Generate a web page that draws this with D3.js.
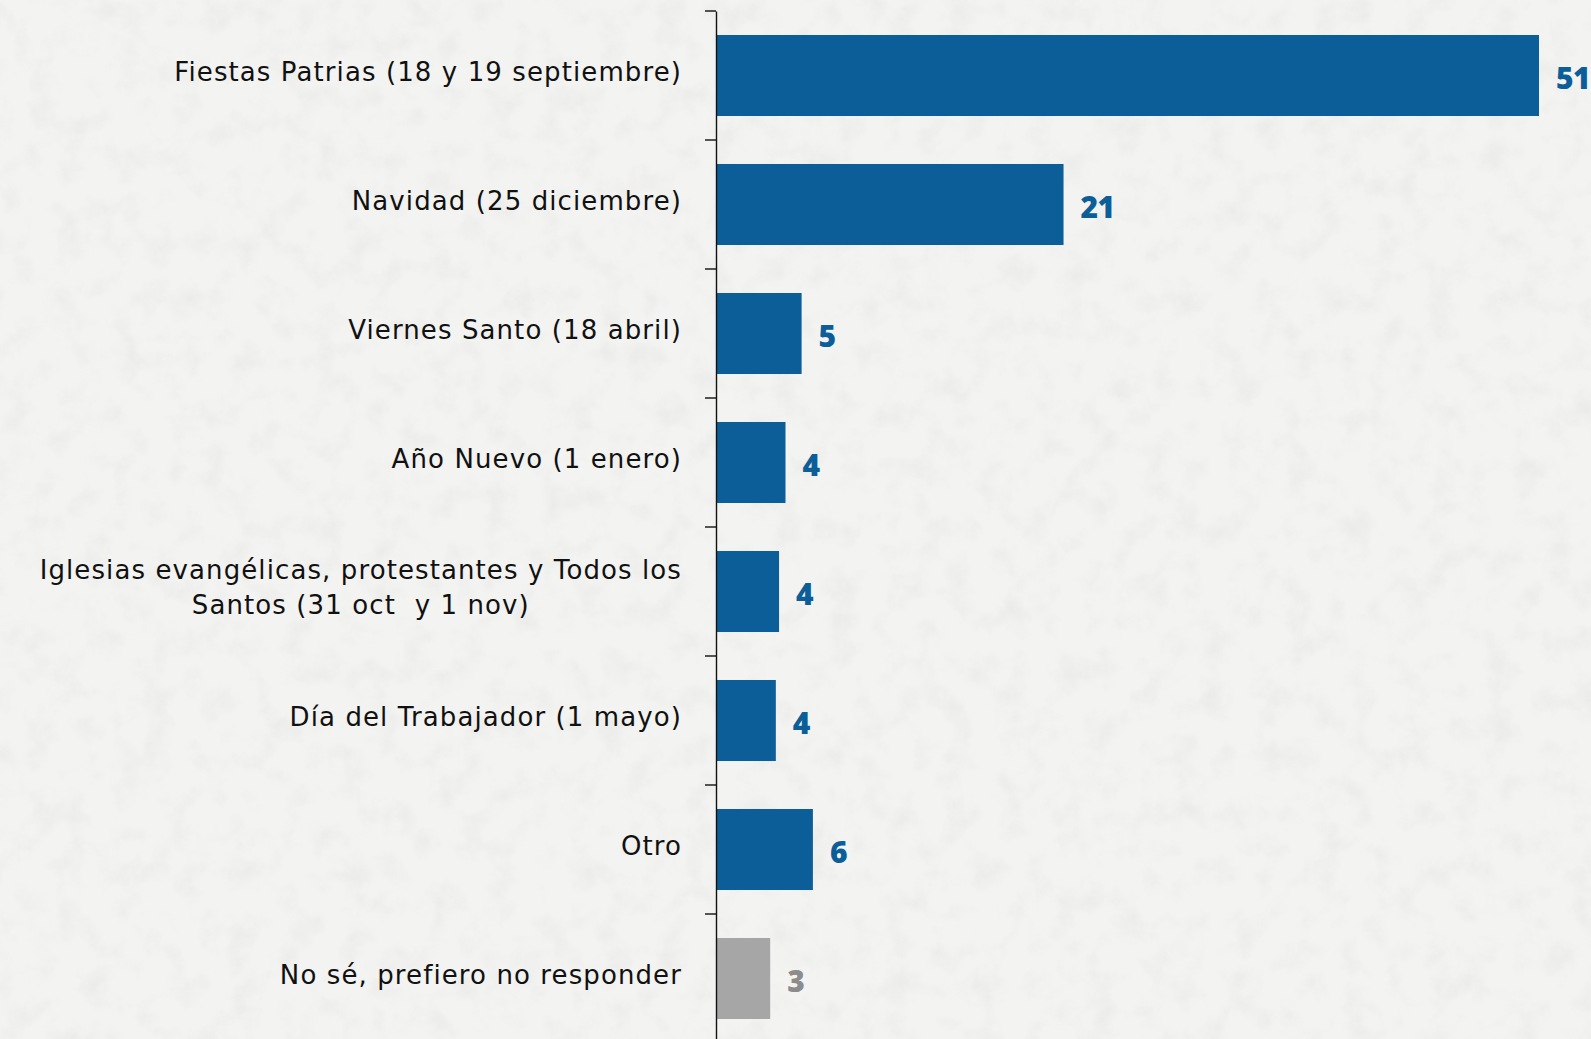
<!DOCTYPE html>
<html>
<head>
<meta charset="utf-8">
<script src="https://cdn.jsdelivr.net/npm/d3@7"></script>
<style>
  html, body { margin: 0; padding: 0; background: #f2f2f0; }
  svg { display: block; }
  .cat { font-family: "DejaVu Sans", sans-serif; font-size: 26px; fill: #111; white-space: pre; letter-spacing: 1.1px; }
  .val { font-family: "Open Sans", sans-serif; font-size: 30px; font-weight: 800; letter-spacing: -0.5px; }
</style>
</head>
<body>
<svg id="chart" width="1591" height="1039"></svg>
<script>
const categories = [
  "Fiestas Patrias (18 y 19 septiembre)",
  "Navidad (25 diciembre)",
  "Viernes Santo (18 abril)",
  "Año Nuevo (1 enero)",
  "Iglesias evangélicas, protestantes y Todos los\nSantos (31 oct  y 1 nov)",
  "Día del Trabajador (1 mayo)",
  "Otro",
  "No sé, prefiero no responder"
];
const values = [51, 21.5, 5.25, 4.25, 3.85, 3.65, 5.95, 3.3];
const valueLabels = ["51", "21", "5", "4", "4", "4", "6", "3"];
const isNoAnswer = [false, false, false, false, false, false, false, true];

const W = 1591, H = 1039;
const svg = d3.select("#chart");

// paper-like background
const defs = svg.append("defs");
const f = defs.append("filter").attr("id", "paper").attr("x", 0).attr("y", 0).attr("width", "100%").attr("height", "100%");
f.append("feTurbulence").attr("type", "fractalNoise").attr("baseFrequency", 0.035).attr("numOctaves", 4).attr("seed", 7).attr("result", "n");
f.append("feColorMatrix").attr("type", "matrix")
  .attr("values", "0 0 0 0 0.55  0 0 0 0 0.55  0 0 0 0 0.53  0 0 0 -1.4 0.75");
svg.append("rect").attr("width", W).attr("height", H).attr("fill", "#f3f3f1");
svg.append("rect").attr("width", W).attr("height", H).attr("filter", "url(#paper)").attr("opacity", 0.25);

const axisX = 716;
const x = d3.scaleLinear().domain([0, 51]).range([axisX + 1, 1539]);
const y = d3.scaleBand().domain(categories).range([11, 1043])
  .paddingInner(0.372).paddingOuter(0.186);

// bars
svg.append("g").selectAll("rect").data(categories).join("rect")
  .attr("x", x(0))
  .attr("y", d => y(d))
  .attr("width", (d, i) => x(values[i]) - x(0))
  .attr("height", y.bandwidth())
  .attr("fill", (d, i) => isNoAnswer[i] ? "#a6a6a6" : "#0c5e99");

// axis with ticks at band boundaries
const axis = svg.append("g").attr("transform", `translate(${axisX},0)`)
  .call(d3.axisLeft(y).tickFormat("").tickSize(11).tickSizeOuter(0));
axis.selectAll(".tick").attr("transform", d => `translate(0,${y(d) - y.step() * y.paddingInner() / 2})`);
axis.selectAll("path, line").attr("stroke", "#111").attr("stroke-width", 1.4);

// category labels
const labelRight = 682;
const lineH = 34.5;
categories.forEach((c, i) => {
  const lines = c.split("\n");
  const base = y(c) + y.bandwidth() / 2 + 5;
  const g = svg.append("g");
  const texts = lines.map((ln, k) => g.append("text").attr("class", "cat")
    .attr("y", base + (k - (lines.length - 1) / 2) * lineH)
    .text(ln));
  if (lines.length === 1) {
    texts[0].attr("x", labelRight).attr("text-anchor", "end");
  } else {
    const maxW = d3.max(texts, t => t.node().getComputedTextLength());
    texts.forEach(t => t.attr("x", labelRight - maxW / 2).attr("text-anchor", "middle"));
  }
});

// value labels
svg.append("g").selectAll("text").data(categories).join("text")
  .attr("class", "val")
  .attr("x", (d, i) => x(values[i]) + 17)
  .attr("y", d => y(d) + y.bandwidth() / 2 + 13)
  .attr("fill", (d, i) => isNoAnswer[i] ? "#8c8c8c" : "#0c5e99")
  .text((d, i) => valueLabels[i]);
</script>
</body>
</html>
